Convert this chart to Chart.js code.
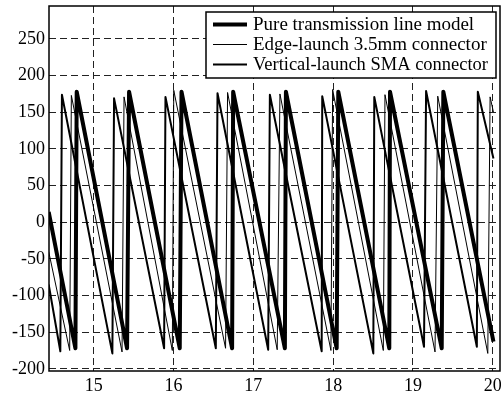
<!DOCTYPE html>
<html lang="en">
<head>
    <meta charset="UTF-8">
    <title>Phase</title>
    <script src="https://cdn.jsdelivr.net/npm/chart.js"></script>
    <style>
     body{
         margin: 0;
         background: #fff;
     }
    </style>
</head>
<body>
    <canvas id="chart-phase" width="501" height="396"></canvas>

<script>
    // values (x in GHz, y in degrees)
    const pureX = [14.436, 14.771, 14.787, 15.418, 15.443, 16.078, 16.100, 16.734, 16.747, 17.395, 17.408, 18.044, 18.064, 18.703, 18.712, 19.360, 19.380, 20.008];
    const pureY = [14, -172, 178, -172, 178, -172, 178, -172, 178, -172, 178, -172, 178, -172, 178, -172, 178, -163];

    const edgeX = [14.436, 14.699, 14.720, 15.355, 15.380, 15.985, 16.003, 16.652, 16.677, 17.299, 17.333, 17.972, 17.993, 18.628, 18.649, 19.276, 19.310, 19.937, 19.966, 20.008];
    const edgeY = [-40, -175, 173, -177, 171, -175, 180, -172, 177, -174, 175, -175, 181, -175, 174, -177, 172, -179, 171, 150];

    const vertX = [14.436, 14.582, 14.602, 15.234, 15.255, 15.882, 15.899, 16.530, 16.551, 17.186, 17.207, 17.856, 17.863, 18.503, 18.515, 19.138, 19.164, 19.800, 19.812, 20.008];
    const vertY = [-85, -176, 174, -179, 169, -172, 171, -172, 176, -174, 174, -176, 172, -179, 171, -170, 179, -170, 178, 87];

    const xTicks = [15, 16, 17, 18, 19, 20];
    const yTicks = [-200, -150, -100, -50, 0, 50, 100, 150, 200, 250];

    const labels = ['Pure transmission line model', 'Edge-launch 3.5mm connector', 'Vertical-launch SMA connector'];

    function toPoints(xs, ys) {
        return xs.map((x, i) => ({x: x, y: ys[i]}));
    }

    const fontFamily = '"Liberation Serif", "Times New Roman", serif';

    // frame round the plot + boxed legend in the top right
    const framePlugin = {
        id: 'frame',
        afterDraw(chart) {
            const ctx = chart.ctx;
            const a = chart.chartArea;
            ctx.save();
            ctx.strokeStyle = '#000';
            ctx.lineWidth = 1.5;
            ctx.strokeRect(a.left, a.top, a.right - a.left, a.bottom - a.top);

            // legend
            const bx = 206, by = 12, bw = 290, bh = 66;
            ctx.fillStyle = '#fff';
            ctx.fillRect(bx, by, bw, bh);
            ctx.lineWidth = 1.5;
            ctx.strokeRect(bx, by, bw, bh);
            ctx.font = '19px ' + fontFamily;
            ctx.textBaseline = 'middle';
            ctx.fillStyle = '#000';
            chart.data.datasets.forEach((ds, i) => {
                const y = by + 12.5 + i * 20;
                ctx.beginPath();
                ctx.lineWidth = ds.borderWidth;
                ctx.moveTo(bx + 7, y);
                ctx.lineTo(bx + 41, y);
                ctx.stroke();
                ctx.fillText(ds.label, bx + 47, y + 1, 235);
            });
            ctx.restore();
        }
    };

    const gridOpts = {
        color: '#222',
        lineWidth: 1,
        drawTicks: false
    };

    const ctx = document.getElementById('chart-phase').getContext('2d');
    window.phaseChart = new Chart(ctx, {
        type: 'line',
        data: {
            datasets: [{
                label: labels[0],
                data: toPoints(pureX, pureY),
                borderColor: '#000',
                borderWidth: 4,
                borderJoinStyle: 'round',
                pointRadius: 0,
                fill: false
            }, {
                label: labels[1],
                data: toPoints(edgeX, edgeY),
                borderColor: '#000',
                borderWidth: 1,
                borderJoinStyle: 'round',
                pointRadius: 0,
                fill: false
            }, {
                label: labels[2],
                data: toPoints(vertX, vertY),
                borderColor: '#000',
                borderWidth: 2,
                borderJoinStyle: 'round',
                pointRadius: 0,
                fill: false
            }]
        },
        options: {
            responsive: false,
            animation: false,
            devicePixelRatio: 1,
            layout: {
                padding: {top: 6, right: 1, left: 0, bottom: 0}
            },
            plugins: {
                legend: {display: false},
                tooltip: {enabled: false}
            },
            scales: {
                x: {
                    type: 'linear',
                    min: 14.44,
                    max: 20.09,
                    afterBuildTicks: s => { s.ticks = xTicks.map(v => ({value: v})); },
                    afterFit: s => { s.height = 25; s.paddingLeft = 0; s.paddingRight = 0; },
                    grid: gridOpts,
                    border: {display: false, dash: [7, 4]},
                    ticks: {
                        color: '#000',
                        padding: 4,
                        maxRotation: 0,
                        font: {family: fontFamily, size: 18}
                    }
                },
                y: {
                    min: -203,
                    max: 295,
                    afterBuildTicks: s => { s.ticks = yTicks.map(v => ({value: v})); },
                    afterFit: s => { s.width = 49; s.paddingTop = 0; s.paddingBottom = 0; },
                    grid: gridOpts,
                    border: {display: false, dash: [7, 4]},
                    ticks: {
                        color: '#000',
                        padding: 4,
                        font: {family: fontFamily, size: 18}
                    }
                }
            }
        },
        plugins: [framePlugin]
    });
</script>
</body>
</html>
